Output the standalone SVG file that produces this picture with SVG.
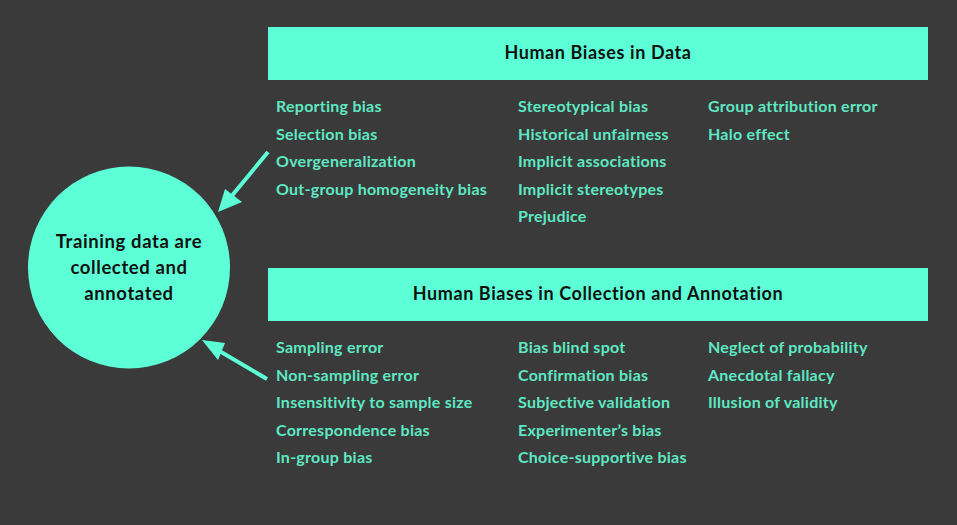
<svg xmlns="http://www.w3.org/2000/svg" width="957" height="525" viewBox="0 0 957 525">
<style>
.bg{fill:#3a3a3a}
.box{fill:#5cffd6}
.title{font-family:Lato,"Liberation Sans",sans-serif;font-weight:700;font-size:18px;letter-spacing:0.6px;fill:#111;text-anchor:middle}
.item{font-family:Lato,"Liberation Sans",sans-serif;font-weight:700;font-size:16px;letter-spacing:0.25px;fill:#5ee8c2}
.ctext{font-family:Lato,"Liberation Sans",sans-serif;font-weight:700;font-size:18.5px;letter-spacing:0.6px;fill:#111;text-anchor:middle}
.conn{stroke:#5cffd6;stroke-width:4;fill:none}
.head{fill:#5cffd6}
</style>
<rect class="bg" x="0" y="0" width="957" height="525"/>
<g id="node-training">
<circle class="box" cx="129" cy="267.5" r="101"/>
<text class="ctext" x="129" y="247.5">Training data are</text>
<text class="ctext" x="129" y="273.5">collected and</text>
<text class="ctext" x="129" y="299.5">annotated</text>
</g>
<g id="node-data">
<rect class="box" x="268" y="27" width="660" height="53"/>
<text class="title" x="598" y="59">Human Biases in Data</text>
<g class="item">
<text x="276" y="112">Reporting bias</text>
<text x="276" y="140">Selection bias</text>
<text x="276" y="167">Overgeneralization</text>
<text x="276" y="195">Out-group homogeneity bias</text>
<text x="518" y="112">Stereotypical bias</text>
<text x="518" y="140">Historical unfairness</text>
<text x="518" y="167">Implicit associations</text>
<text x="518" y="195">Implicit stereotypes</text>
<text x="518" y="222">Prejudice</text>
<text x="708" y="112">Group attribution error</text>
<text x="708" y="140">Halo effect</text>
</g>
</g>
<g id="node-collection">
<rect class="box" x="268" y="268" width="660" height="53"/>
<text class="title" x="598" y="300">Human Biases in Collection and Annotation</text>
<g class="item">
<text x="276" y="353">Sampling error</text>
<text x="276" y="381">Non-sampling error</text>
<text x="276" y="408">Insensitivity to sample size</text>
<text x="276" y="436">Correspondence bias</text>
<text x="276" y="463">In-group bias</text>
<text x="518" y="353">Bias blind spot</text>
<text x="518" y="381">Confirmation bias</text>
<text x="518" y="408">Subjective validation</text>
<text x="518" y="436">Experimenter’s bias</text>
<text x="518" y="463">Choice-supportive bias</text>
<text x="708" y="353">Neglect of probability</text>
<text x="708" y="381">Anecdotal fallacy</text>
<text x="708" y="408">Illusion of validity</text>
</g>
</g>
<g id="connectors">
<line class="conn" x1="268" y1="152" x2="230" y2="198"/>
<polygon class="head" points="218,212 225,189 242,202"/>
<line class="conn" x1="267" y1="379" x2="216" y2="349"/>
<polygon class="head" points="202,340 225,343 218,360"/>
</g>
</svg>
